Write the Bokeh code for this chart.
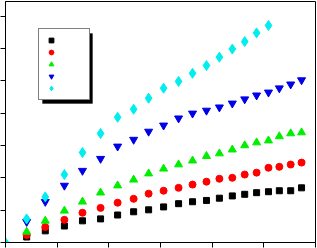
from bokeh.plotting import figure
from bokeh.models import Range1d, FixedTicker, Legend, LegendItem, BoxAnnotation
from bokeh.embed import file_html
from bokeh.resources import INLINE

# Data
x_common = [0.41, 0.77, 1.14, 1.49, 1.84, 2.17, 2.48, 2.77, 3.06, 3.35,
            3.62, 3.89, 4.14, 4.39, 4.63, 4.86, 5.09, 5.30, 5.52, 5.73]
black_y = [0.17, 0.36, 0.51, 0.67, 0.73, 0.85, 0.95, 1.01, 1.10, 1.20,
           1.26, 1.30, 1.37, 1.44, 1.49, 1.54, 1.57, 1.60, 1.60, 1.69]
red_y = [0.23, 0.48, 0.70, 0.92, 1.07, 1.23, 1.35, 1.51, 1.60, 1.69,
         1.79, 1.88, 1.97, 2.00, 2.10, 2.16, 2.31, 2.34, 2.41, 2.47]
green_y = [0.33, 0.67, 0.98, 1.26, 1.54, 1.76, 1.94, 2.13, 2.28, 2.41,
           2.53, 2.67, 2.75, 2.87, 3.00, 3.09, 3.15, 3.28, 3.37, 3.40]
blue_y = [0.64, 1.26, 1.76, 2.22, 2.59, 2.97, 3.18, 3.43, 3.62, 3.84,
          3.99, 4.08, 4.18, 4.30, 4.43, 4.55, 4.64, 4.77, 4.89, 5.02]
cyan_x = [0, 0.41, 0.77, 1.14, 1.49, 1.84, 2.17, 2.48, 2.77, 3.06,
          3.35, 3.62, 3.89, 4.14, 4.39, 4.63, 4.86, 5.09]
cyan_y = [0, 0.73, 1.41, 2.10, 2.78, 3.37, 3.87, 4.12, 4.46, 4.77,
          4.98, 5.23, 5.47, 5.73, 5.98, 6.21, 6.48, 6.71]
x_ticks = [0, 1, 2, 3, 4, 5, 6]
y_ticks = [0, 1, 2, 3, 4, 5, 6, 7]

p = figure(width=317, height=248, x_range=Range1d(0, 6), y_range=Range1d(0, 7.45),
           output_backend="svg", toolbar_location=None,
           min_border_left=5, min_border_right=2, min_border_top=1, min_border_bottom=6)
p.xgrid.visible = False
p.ygrid.visible = False
p.outline_line_color = "black"
p.outline_line_width = 1
p.background_fill_color = "white"
p.border_fill_color = "white"

for ax, ticks in ((p.xaxis[0], x_ticks), (p.yaxis[0], y_ticks)):
    ax.ticker = FixedTicker(ticks=ticks)
    ax.major_label_text_font_size = "0px"
    ax.major_label_text_color = None
    ax.major_label_standoff = 0
    ax.major_tick_in = 0
    ax.major_tick_out = 5
    ax.minor_tick_line_color = None
    ax.axis_line_color = "black"
    ax.major_tick_line_color = "black"

r_black = p.scatter(x_common, black_y, marker="square", size=6, color="black")
r_red = p.scatter(x_common, red_y, marker="circle", size=7, color="#ff0000")
r_green = p.scatter(x_common, green_y, marker="triangle", size=8, color="#00ee00")
r_blue = p.scatter(x_common, blue_y, marker="inverted_triangle", size=8, color="#0000e6")
r_cyan = p.scatter(cyan_x, cyan_y, marker="diamond", size=10, color="#00eeee")

shadow = BoxAnnotation(left=37, right=87, bottom=139, top=209,
                       left_units="screen", right_units="screen",
                       bottom_units="screen", top_units="screen",
                       fill_color="black", fill_alpha=1, line_color="black")
p.add_layout(shadow)

legend = Legend(items=[LegendItem(label=" ", renderers=[r]) for r in
                       (r_black, r_red, r_green, r_blue, r_cyan)],
                location=(33, 142), glyph_height=12, glyph_width=14,
                label_height=12, label_width=26, label_standoff=0,
                padding=5, spacing=0, margin=0,
                border_line_color="black", border_line_width=1,
                background_fill_color="white", background_fill_alpha=1,
                label_text_font_size="8px", label_text_color=None)
p.add_layout(legend, "center")

open("out.html", "w").write(file_html(p, INLINE))
